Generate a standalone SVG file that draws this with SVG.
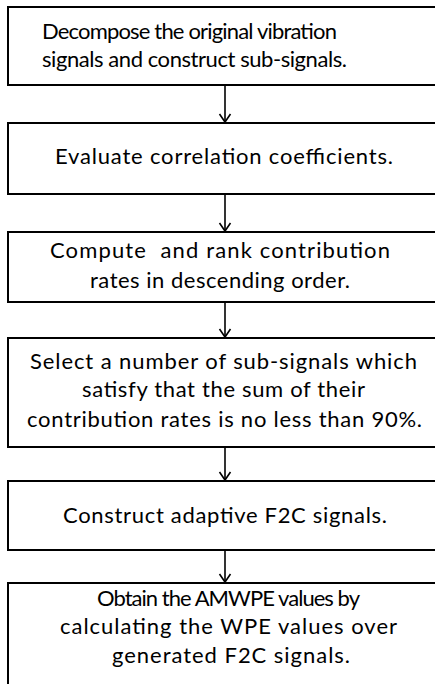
<svg xmlns="http://www.w3.org/2000/svg" width="435" height="684" viewBox="0 0 435 684">
<defs>
<style>
.box{fill:#fff;stroke:#000;stroke-width:2}
.t{font-family:"Lato","Liberation Sans",sans-serif;font-size:22px;fill:#000}
.c{text-anchor:middle}
.ln{stroke:#000;stroke-width:1.6;fill:none}
</style>
</defs>
<rect width="435" height="684" fill="#fff"/>
<g id="connectors">
<line class="ln" x1="225" y1="86" x2="225" y2="121"/>
<polyline class="ln" points="219.5,114 225,122 230.5,114"/>
<line class="ln" x1="225" y1="195" x2="225" y2="230"/>
<polyline class="ln" points="219.5,223 225,231 230.5,223"/>
<line class="ln" x1="225" y1="303" x2="225" y2="336"/>
<polyline class="ln" points="219.5,329 225,337 230.5,329"/>
<line class="ln" x1="225" y1="448" x2="225" y2="479"/>
<polyline class="ln" points="219.5,472 225,480 230.5,472"/>
<line class="ln" x1="225" y1="551" x2="225" y2="581"/>
<polyline class="ln" points="219.5,574 225,582 230.5,574"/>
</g>
<g id="n1">
<rect class="box" x="8" y="7" width="440" height="78"/>
<text class="t" x="42" y="39" textLength="295" lengthAdjust="spacing">Decompose the original vibration</text>
<text class="t" x="42" y="67" textLength="305" lengthAdjust="spacing">signals and construct sub-signals.</text>
</g>
<g id="n2">
<rect class="box" x="8" y="123" width="440" height="71"/>
<text class="t c" x="224" y="164" textLength="338" lengthAdjust="spacing">Evaluate correlation coefficients.</text>
</g>
<g id="n3">
<rect class="box" x="8" y="232" width="440" height="70"/>
<text class="t c" x="220" y="258" textLength="340" lengthAdjust="spacing" xml:space="preserve">Compute  and rank contribution</text>
<text class="t c" x="220" y="288" textLength="260" lengthAdjust="spacing">rates in descending order.</text>
</g>
<g id="n4">
<rect class="box" x="8" y="338" width="440" height="109"/>
<text class="t c" x="223.5" y="369" textLength="387" lengthAdjust="spacing">Select a number of sub-signals which</text>
<text class="t c" x="223.5" y="397" textLength="283" lengthAdjust="spacing">satisfy that the sum of their</text>
<text class="t c" x="224.5" y="427" textLength="395" lengthAdjust="spacing">contribution rates is no less than 90%.</text>
</g>
<g id="n5">
<rect class="box" x="8" y="481" width="440" height="69"/>
<text class="t c" x="225" y="523" textLength="324" lengthAdjust="spacing">Construct adaptive F2C signals.</text>
</g>
<g id="n6">
<rect class="box" x="8" y="583" width="440" height="120"/>
<text class="t c" x="228.5" y="606" textLength="263" lengthAdjust="spacing">Obtain the AMWPE values by</text>
<text class="t c" x="228.5" y="634" textLength="337" lengthAdjust="spacing">calculating the WPE values over</text>
<text class="t c" x="231" y="663" textLength="238" lengthAdjust="spacing">generated F2C signals.</text>
</g>
</svg>
